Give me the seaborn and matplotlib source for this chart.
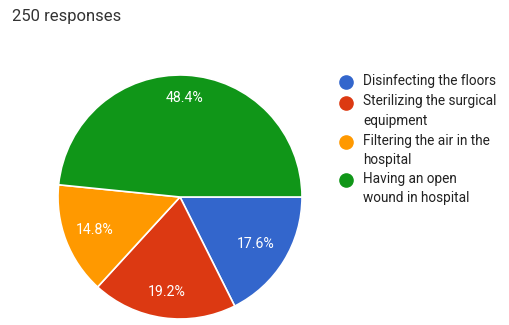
import matplotlib
matplotlib.use("Agg")
import matplotlib.pyplot as plt
import numpy as np
import seaborn as sns

# Survey answers (250 responses)
categories = [
    "Disinfecting the floors",
    "Sterilizing the surgical\nequipment",
    "Filtering the air in the\nhospital",
    "Having an open\nwound in hospital",
]
counts = [44, 48, 37, 121]
colors = ["#3366CC", "#DC3912", "#FF9900", "#109618"]
title = "250 responses"

sns.set_theme(style="white")
plt.rcParams["font.family"] = ["Roboto", "DejaVu Sans"]

W, H = 509, 325
fig = plt.figure(figsize=(W / 100, H / 100), dpi=100)
fig.patch.set_facecolor("white")

# Pie axes: centre (180, 197), radius ~122 px
cx, cy, r = 180, 197, 122
ax = fig.add_axes([(cx - r) / W, (H - cy - r) / H, 2 * r / W, 2 * r / H])
pal = sns.color_palette(colors)
wedges, texts, autotexts = ax.pie(
    counts,
    colors=pal,
    startangle=0,
    counterclock=False,
    autopct="%1.1f%%",
    pctdistance=0.77,
    wedgeprops=dict(edgecolor="white", linewidth=1.2),
    textprops=dict(color="white", fontsize=10.2),
)
# radial placement of the percentage labels per wedge
label_dist = [0.73, 0.79, 0.75, 0.81]
for w, t, d in zip(wedges, autotexts, label_dist):
    ang = np.deg2rad((w.theta1 + w.theta2) / 2)
    t.set_position((d * np.cos(ang), d * np.sin(ang)))
ax.set_aspect("equal")
ax.set_xlim(-1.0, 1.0)
ax.set_ylim(-1.0, 1.0)
ax.axis("off")

# Overlay in pixel coordinates for title and legend
ov = fig.add_axes([0, 0, 1, 1], facecolor="none")
ov.set_xlim(0, W)
ov.set_ylim(H, 0)
ov.axis("off")

ov.text(12, 17, title, fontsize=12, color="#333333", va="center", ha="left")

legend_y = [82, 103, 142, 180]
for y, lab, col in zip(legend_y, categories, colors):
    ov.plot([346], [y], marker="o", markersize=9.5, color=col, linestyle="none")
    ov.text(363, y - 8.5, lab, fontsize=9.8, color="#222222", va="top", ha="left",
            linespacing=1.5)

fig.savefig("out.png", dpi=100, facecolor="white")
